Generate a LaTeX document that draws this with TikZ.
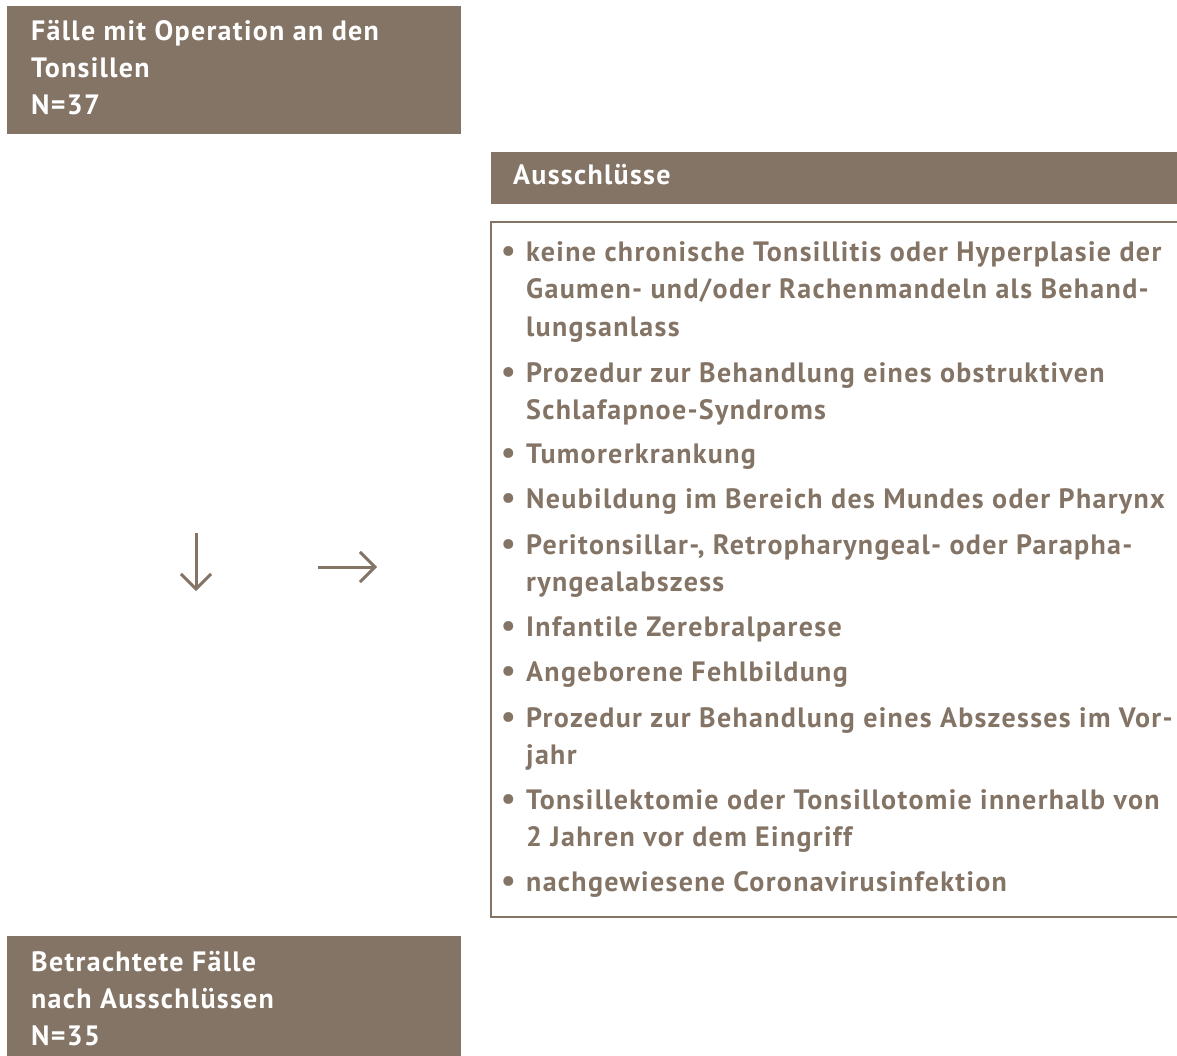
\documentclass[tikz,border=0pt]{standalone}
\usepackage{fontspec}
\setmainfont{PT Sans}[LetterSpace=4.7]
\usetikzlibrary{arrows.meta}
\definecolor{taupe}{RGB}{132,116,102}
\begin{document}
\begin{tikzpicture}[x=1pt,y=-1pt,
  txt/.style={anchor=base west, inner sep=0pt, font=\fontsize{28}{37}\selectfont\bfseries},
  wtxt/.style={txt, text=white},
  ltxt/.style={txt, text=taupe},
  fillbox/.style={fill=taupe, draw=none, anchor=north west, inner sep=0pt},
  arr/.style={draw=taupe, line width=3pt, -{Straight Barb[length=15pt,width=30pt]}}]
\useasboundingbox (0,0) rectangle (1177,1056);
% boxes
\node[fillbox, minimum width=454pt, minimum height=128pt] (topbox) at (7,6) {};
\node[fillbox, minimum width=686pt, minimum height=52pt] (head) at (491,152) {};
\node[fillbox, minimum width=454pt, minimum height=120pt] (botbox) at (7,936) {};
% top box text
\node[wtxt] (t1) at (31,41) {Fälle mit Operation an den};
\node[wtxt] (t2) at (31,78) {Tonsillen};
\node[wtxt] (t3) at (31,115) {N=37};
% header
\node[wtxt] (h1) at (513,185) {Ausschlüsse};
% frame
\coordinate (fa) at (1177,222);
\coordinate (fb) at (491,222);
\coordinate (fc) at (491,917);
\coordinate (fd) at (1177,917);
\draw[taupe, line width=2.5pt] (fa) -- (fb) -- (fc) -- (fd);
% list
\foreach \yy in {262,382,463,508,554,636,681,727,809,891}
  \node[ltxt, scale=1.15] at (501,\yy) {\textbullet};
\foreach \yy/\itemtxt in {
  262/{keine chronische Tonsillitis oder Hyperplasie der},
  299/{Gaumen- und/oder Rachenmandeln als Behand-},
  336/{lungsanlass},
  382/{Prozedur zur Behandlung eines obstruktiven},
  419/{Schlafapnoe-Syndroms},
  463/{Tumorerkrankung},
  508/{Neubildung im Bereich des Mundes oder Pharynx},
  554/{Peritonsillar-, Retropharyngeal- oder Parapha-},
  591/{ryngealabszess},
  636/{Infantile Zerebralparese},
  681/{Angeborene Fehlbildung},
  727/{Prozedur zur Behandlung eines Abszesses im Vor-},
  764/{jahr},
  809/{Tonsillektomie oder Tonsillotomie innerhalb von},
  846/{2 Jahren vor dem Eingriff},
  891/{nachgewiesene Coronavirusinfektion}}
  \node[ltxt] at (526,\yy) {\itemtxt};
% bottom box text
\node[wtxt] (b1) at (31,971) {Betrachtete Fälle};
\node[wtxt] (b2) at (31,1008) {nach Ausschlüssen};
\node[wtxt] (b3) at (31,1045) {N=35};
% arrows
\coordinate (da) at (196,533);
\coordinate (db) at (196,591);
\coordinate (ra) at (318,567);
\coordinate (rb) at (377,567);
\draw[arr] (da) -- (db);
\draw[arr] (ra) -- (rb);
\end{tikzpicture}
\end{document}
